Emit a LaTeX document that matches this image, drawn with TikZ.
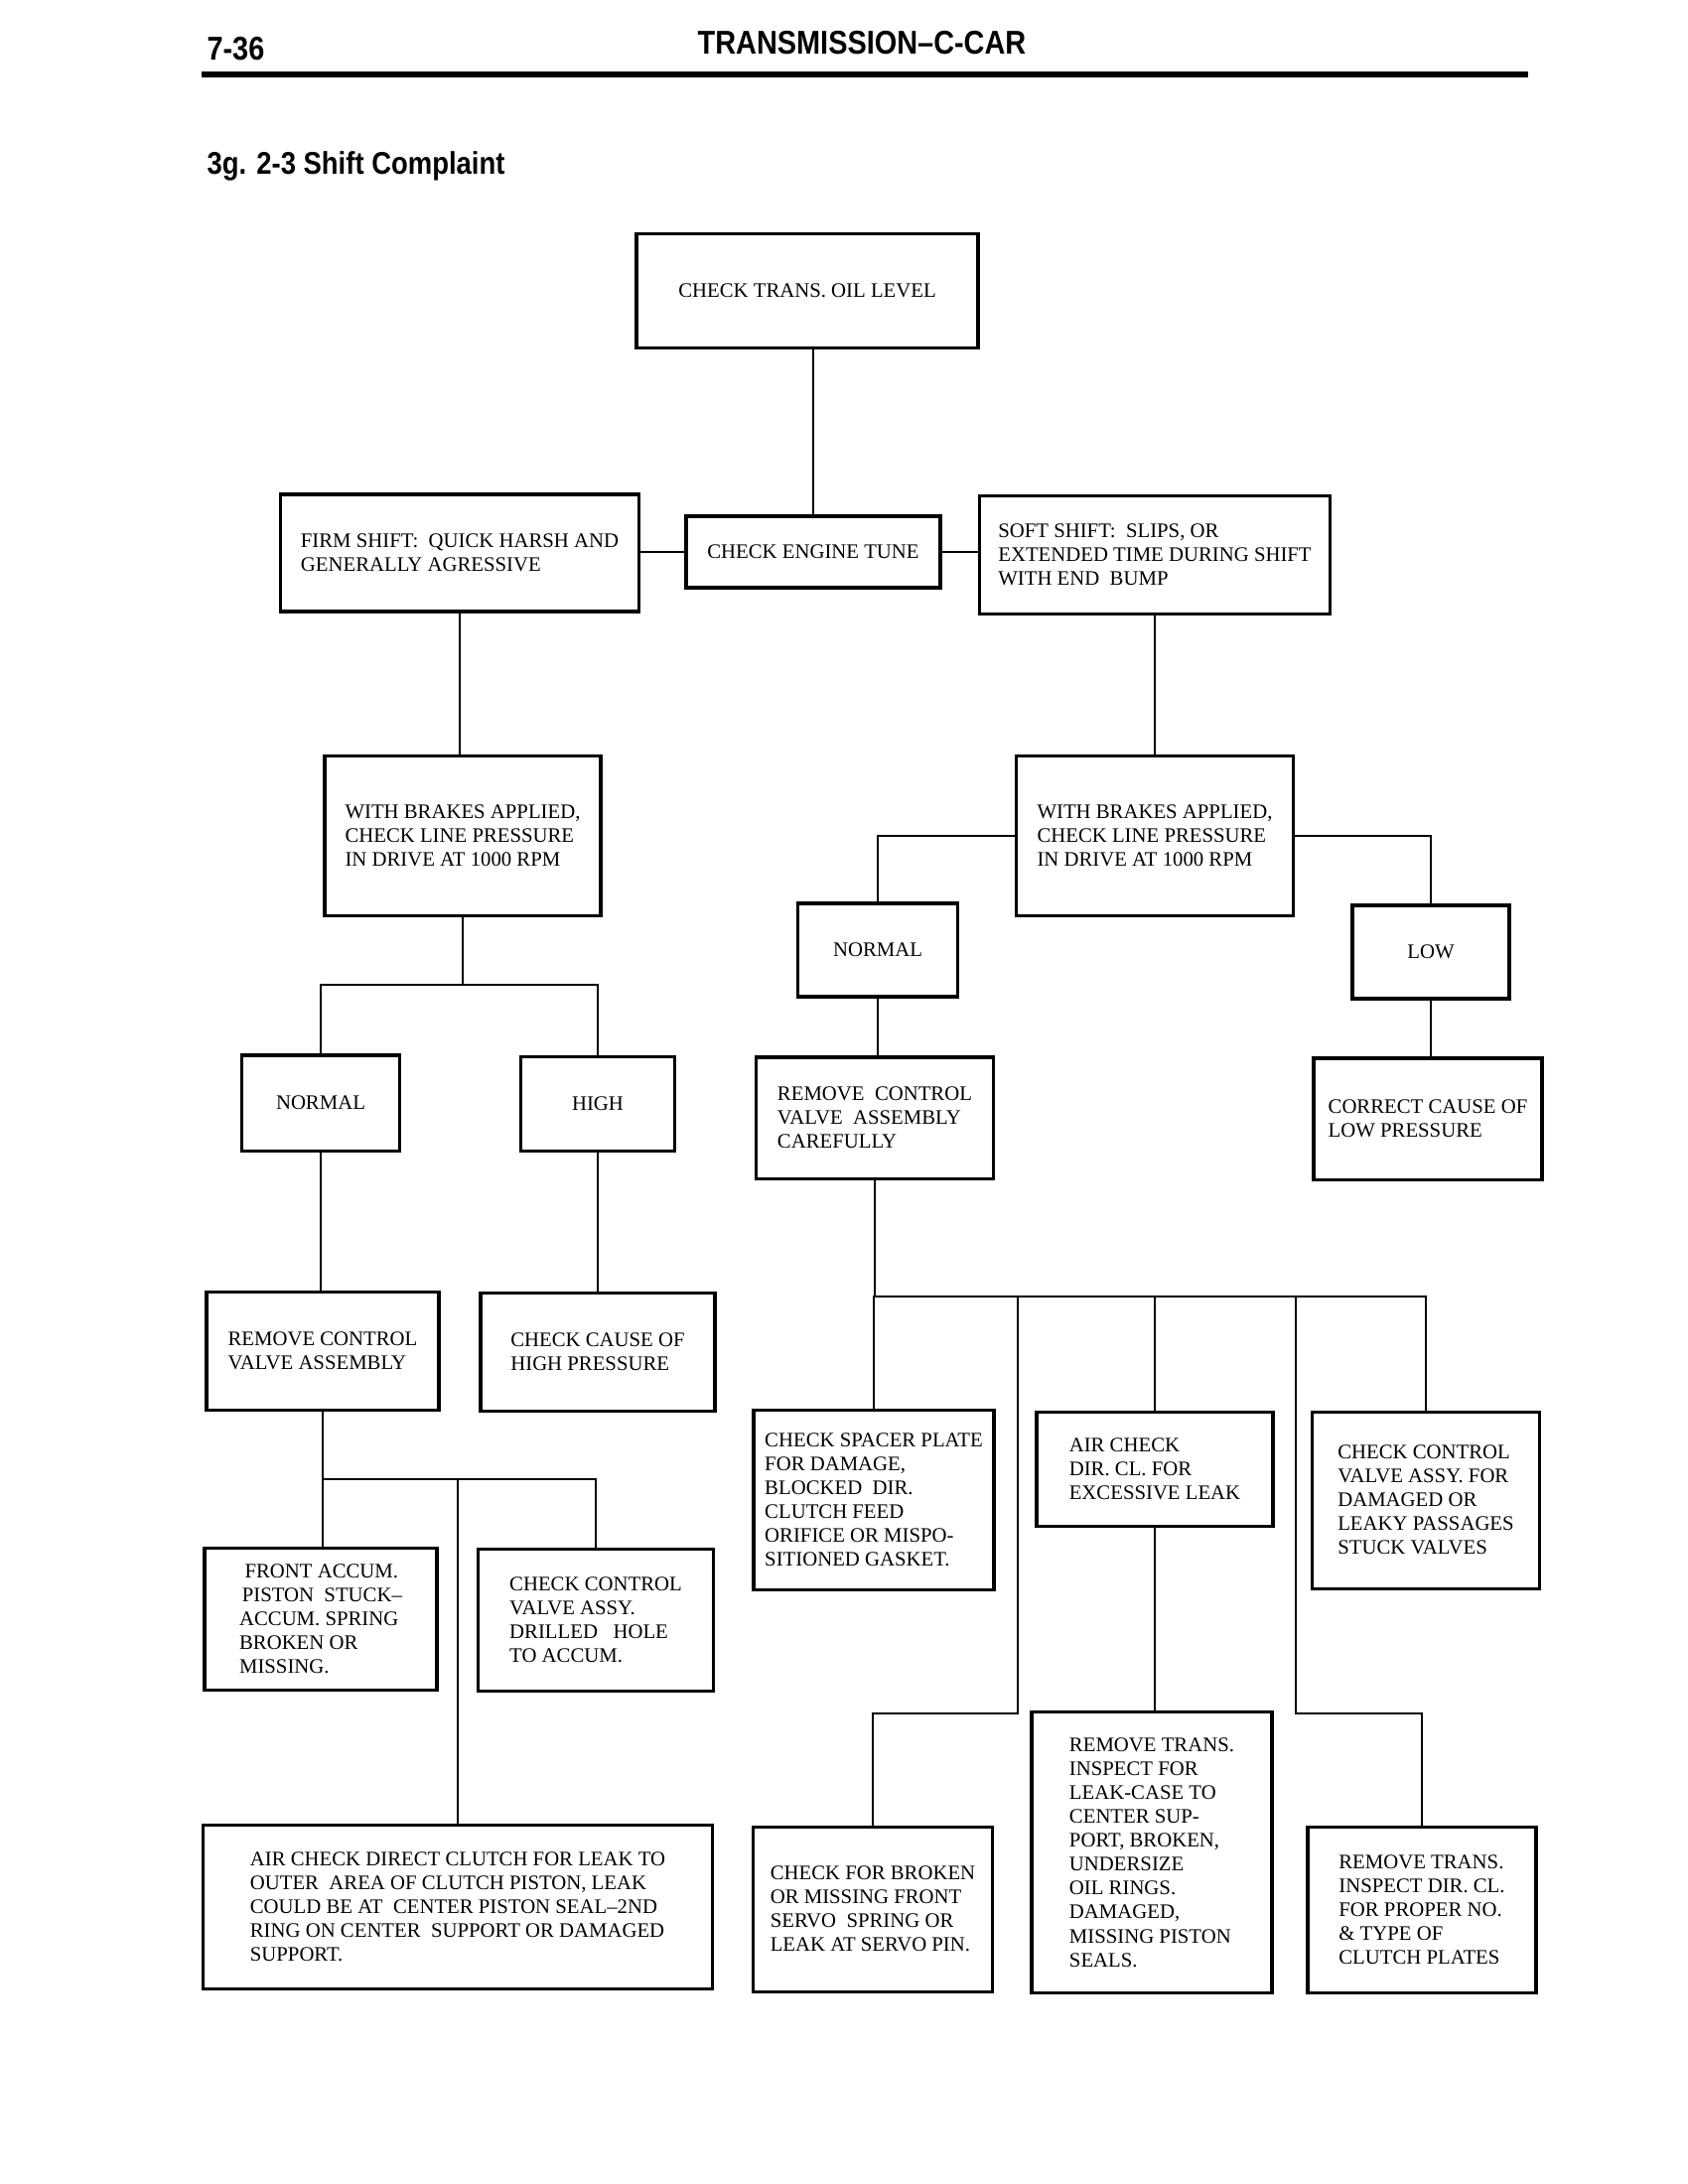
\documentclass[tikz,border=0pt]{standalone}
\usepackage{fontspec}
\setmainfont{Liberation Serif}
\newfontfamily\headfont[FakeStretch=0.87]{Liberation Sans}
\usepackage{tikz}
\tikzset{
  box/.style={draw=black, line width=1.1pt, align=left, inner sep=0pt, font=\fontsize{7.5}{8.7}\selectfont},
  boxsize/.style 2 args={minimum width=#1*0.127mm, minimum height=#2*0.127mm},
  link/.style={line width=0.9pt},
  headtext/.style={font=\headfont\bfseries\fontsize{12}{14}\selectfont, inner sep=0pt},
  titletext/.style={font=\headfont\bfseries\fontsize{11.4}{13}\selectfont, inner sep=0pt}
}
\begin{document}
\begin{tikzpicture}[x=0.127mm, y=-0.127mm]
\fill[white] (0,0) rectangle (1700,2200);
\useasboundingbox (0,0) rectangle (1700,2200);
\node[headtext, anchor=base west] (page) at (208,60) {7-36};
\node[headtext, anchor=base] (chapter) at (868,54) {TRANSMISSION\textendash C-CAR};
\draw[line width=2pt] (203,75) -- (1539,75);
\node[titletext, anchor=base west] (title) at (208,175) {3g. 2-3 Shift Complaint};

\node[box, boxsize={344}{115}, align=center] (oil) at (813,293) {CHECK TRANS. OIL LEVEL};
\node[box, boxsize={361}{118}] (firm) at (463,557) {FIRM SHIFT:\ \ QUICK HARSH AND\\GENERALLY AGRESSIVE};
\node[box, boxsize={256}{72}, align=center] (tune) at (819,556) {CHECK ENGINE TUNE};
\node[box, boxsize={353}{119}] (soft) at (1163,559) {SOFT SHIFT:\ \ SLIPS, OR\\EXTENDED TIME DURING SHIFT\\WITH END\ \ BUMP};

\node[box, boxsize={278}{161}] (brakesL) at (466,842) {WITH BRAKES APPLIED,\\CHECK LINE PRESSURE\\IN DRIVE AT 1000 RPM};
\node[box, boxsize={159}{96}, align=center] (normL) at (323,1111) {NORMAL};
\node[box, boxsize={155}{95}, align=center] (highL) at (602,1112) {HIGH};
\node[box, boxsize={234}{119}] (removeL) at (325,1361) {REMOVE CONTROL\\VALVE ASSEMBLY};
\node[box, boxsize={236}{119}] (causeH) at (602,1362) {CHECK CAUSE OF\\HIGH PRESSURE};
\node[box, boxsize={234}{143}] (accum) at (323,1631) {\hspace{2pt}FRONT ACCUM.\\\hspace{1pt}PISTON\ \ STUCK--\\ACCUM. SPRING\\BROKEN OR\\MISSING.};
\node[box, boxsize={237}{143}] (drill) at (600,1632) {CHECK CONTROL\\VALVE ASSY.\\DRILLED\ \ \ HOLE\\TO ACCUM.};
\node[box, boxsize={513}{165}] (airDir) at (461,1921) {AIR CHECK DIRECT CLUTCH FOR LEAK TO\\OUTER\ \ AREA OF CLUTCH PISTON, LEAK\\COULD BE AT\ \ CENTER PISTON SEAL--2ND\\RING ON CENTER\ \ SUPPORT OR DAMAGED\\SUPPORT.};

\node[box, boxsize={279}{161}] (brakesR) at (1163,842) {WITH BRAKES APPLIED,\\CHECK LINE PRESSURE\\IN DRIVE AT 1000 RPM};
\node[box, boxsize={161}{94}, align=center] (normR) at (884,957) {NORMAL};
\node[box, boxsize={158}{94}, align=center] (lowR) at (1441,959) {LOW};
\node[box, boxsize={239}{122}] (removeC) at (881,1126) {REMOVE\ \ CONTROL\\VALVE\ \ ASSEMBLY\\CAREFULLY};
\node[box, boxsize={230}{122}] (corrLow) at (1438,1127) {CORRECT CAUSE OF\\LOW PRESSURE};
\node[box, boxsize={242}{181}] (spacer) at (880,1511) {CHECK SPACER PLATE\\FOR DAMAGE,\\BLOCKED\ \ DIR.\\CLUTCH FEED\\ORIFICE OR MISPO-\\SITIONED GASKET.};
\node[box, boxsize={238}{115}] (airChk) at (1163,1480) {AIR CHECK\\DIR. CL. FOR\\EXCESSIVE LEAK};
\node[box, boxsize={229}{178}] (valveR) at (1436,1511) {CHECK CONTROL\\VALVE ASSY. FOR\\DAMAGED OR\\LEAKY PASSAGES\\STUCK VALVES};
\node[box, boxsize={241}{166}] (servo) at (879,1923) {CHECK FOR BROKEN\\OR MISSING FRONT\\SERVO\ \ SPRING OR\\LEAK AT SERVO PIN.};
\node[box, boxsize={242}{283}] (removeT) at (1160,1866) {REMOVE TRANS.\\INSPECT FOR\\LEAK-CASE TO\\CENTER SUP-\\PORT, BROKEN,\\UNDERSIZE\\OIL RINGS.\\DAMAGED,\\MISSING PISTON\\SEALS.};
\node[box, boxsize={230}{167}] (plates) at (1432,1924) {REMOVE TRANS.\\INSPECT DIR. CL.\\FOR PROPER NO.\\\& TYPE OF\\CLUTCH PLATES};

\coordinate (forkL) at (466,992);
\coordinate (forkA) at (325,1490);
\coordinate (forkB) at (881,1306);
\coordinate (dropL) at (1025,1306);
\coordinate (kneeL) at (1025,1726);
\coordinate (dropR) at (1305,1306);
\coordinate (kneeR) at (1305,1726);

\draw[link] (tune.north) -- (tune.north |- oil.south);
\draw[link] (tune.west) -- (tune.west -| firm.east);
\draw[link] (tune.east) -- (tune.east -| soft.west);
\draw[link] (firm.south) -- (firm.south |- brakesL.north);
\draw[link] (brakesL.south) -- (forkL);
\draw[link] (normL.north) |- (forkL) -| (highL.north);
\draw[link] (normL.south) -- (normL.south |- removeL.north);
\draw[link] (highL.south) -- (highL.south |- causeH.north);
\draw[link] (removeL.south) -- (forkA);
\draw[link] (accum.north -| removeL.south) |- (forkA) -| (drill.north);
\draw[link] (airDir.north) -- (airDir.north |- forkA);
\draw[link] (soft.south) -- (soft.south |- brakesR.north);
\draw[link] (brakesR.west) -| (normR.north);
\draw[link] (brakesR.east) -| (lowR.north);
\draw[link] (normR.south) -- (normR.south |- removeC.north);
\draw[link] (lowR.south) -- (lowR.south |- corrLow.north);
\draw[link] (removeC.south) -- (forkB);
\draw[link] (spacer.north) |- (forkB) -| (valveR.north);
\draw[link] (airChk.north) -- (airChk.north |- forkB);
\draw[link] (dropL) -- (kneeL) -| (servo.north);
\draw[link] (dropR) -- (kneeR) -| (plates.north);
\draw[link] (airChk.south) -- (airChk.south |- removeT.north);
\end{tikzpicture}
\end{document}
